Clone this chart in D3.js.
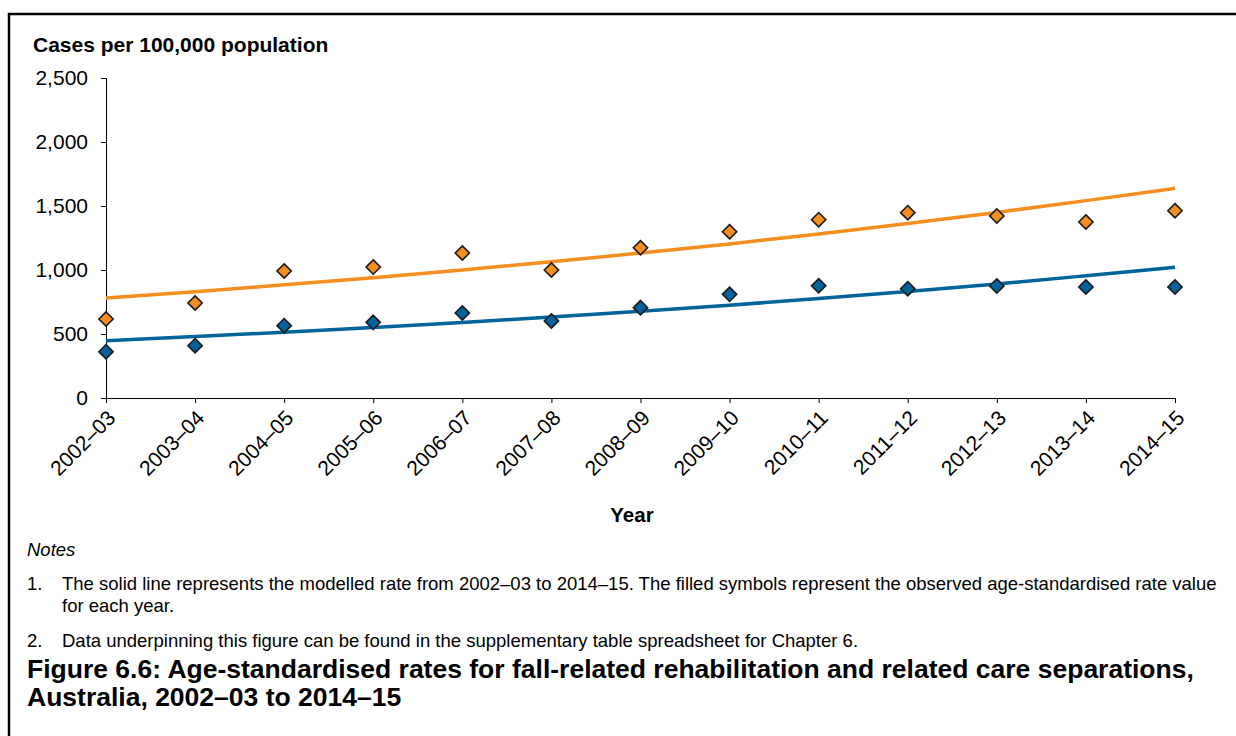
<!DOCTYPE html>
<html><head><meta charset="utf-8">
<script src="https://cdn.jsdelivr.net/npm/d3@7"></script>
<style>
html,body{margin:0;padding:0;background:#fff;}
svg{display:block;font-family:Arial,"Liberation Sans",sans-serif;}
</style></head>
<body>
<svg id="chart" width="1236" height="736"></svg>
<script>
const years = ["2002–03","2003–04","2004–05","2005–06","2006–07","2007–08","2008–09","2009–10","2010–11","2011–12","2012–13","2013–14","2014–15"];
const observedOrange = [617,742,992,1023,1133,1000,1174,1299,1393,1448,1422,1375,1463];
const observedBlue = [362,409,565,591,664,602,706,810,877,854,875,867,867];
const modelledOrange = [781,831,884,940,1000,1064,1132,1204,1281,1363,1450,1542,1638];
const modelledBlue = [448,480,514,551,590,632,677,725,777,832,891,955,1021];
const yTicks = [0,500,1000,1500,2000,2500];
const colorOrange = "#F68D1F";
const colorBlue = "#00639A";

const svg = d3.select("#chart");
const FF = "Arial,'Liberation Sans',sans-serif";
// frame
svg.append("path").attr("d","M9,740 L9,14 L1240,14").attr("fill","none").attr("stroke","#000").attr("stroke-width",2.5);

const x = d3.scalePoint().domain(years).range([106,1175]);
const y = d3.scaleLinear().domain([0,2500]).range([398,78]);

const yAxis = svg.append("g").attr("transform","translate(106,0)")
  .call(d3.axisLeft(y).tickValues(yTicks).tickSize(5).tickPadding(13).tickFormat(d3.format(",")));
yAxis.selectAll("text").attr("font-size","21px").attr("fill","#000").attr("font-family",FF);
yAxis.selectAll("line,path").attr("stroke","#000");

const xAxis = svg.append("g").attr("transform","translate(0,398)")
  .call(d3.axisBottom(x).tickSize(5).tickSizeOuter(0).tickPadding(6));
xAxis.selectAll("line,path").attr("stroke","#000");
xAxis.selectAll("text")
  .attr("font-size","21px").attr("fill","#000").attr("font-family",FF)
  .attr("text-anchor","end").attr("dy","0.35em")
  .attr("transform","translate(5,16) rotate(-45)").attr("x",0).attr("y",0);

const line = d3.line().x((d,i)=>x(years[i])).y(d=>y(d)).curve(d3.curveMonotoneX);
svg.append("path").datum(modelledOrange).attr("d",line).attr("fill","none").attr("stroke",colorOrange).attr("stroke-width",3.5);
svg.append("path").datum(modelledBlue).attr("d",line).attr("fill","none").attr("stroke",colorBlue).attr("stroke-width",3.5);

const diamond = d3.symbol().type(d3.symbolDiamond2).size(130);
function pts(data,color){
  svg.append("g").selectAll("path").data(data).join("path")
    .attr("d",diamond)
    .attr("transform",(d,i)=>`translate(${x(years[i])},${y(d)})`)
    .attr("fill",color).attr("stroke","#1a1a1a").attr("stroke-width",1.6);
}
pts(observedOrange,colorOrange);
pts(observedBlue,colorBlue);

svg.append("text").attr("x",33).attr("y",52).attr("font-size","21px").attr("font-weight","bold").text("Cases per 100,000 population");
svg.append("text").attr("x",632).attr("y",522).attr("text-anchor","middle").attr("font-size","20.5px").attr("font-weight","bold").text("Year");

svg.append("text").attr("x",27).attr("y",556).attr("font-size","18.5px").attr("font-style","italic").text("Notes");
const notes = svg.append("g").attr("font-size","18.5px");
notes.append("text").attr("x",27).attr("y",590).text("1.");
notes.append("text").attr("x",62).attr("y",590).text("The solid line represents the modelled rate from 2002–03 to 2014–15. The filled symbols represent the observed age-standardised rate value");
notes.append("text").attr("x",62).attr("y",612).text("for each year.");
notes.append("text").attr("x",27).attr("y",647).text("2.");
notes.append("text").attr("x",62).attr("y",647).text("Data underpinning this figure can be found in the supplementary table spreadsheet for Chapter 6.");

const title = svg.append("g").attr("font-size","26.5px").attr("font-weight","bold");
title.append("text").attr("x",27).attr("y",678).text("Figure 6.6: Age-standardised rates for fall-related rehabilitation and related care separations,");
title.append("text").attr("x",27).attr("y",706).text("Australia, 2002–03 to 2014–15");
</script>
</body></html>
